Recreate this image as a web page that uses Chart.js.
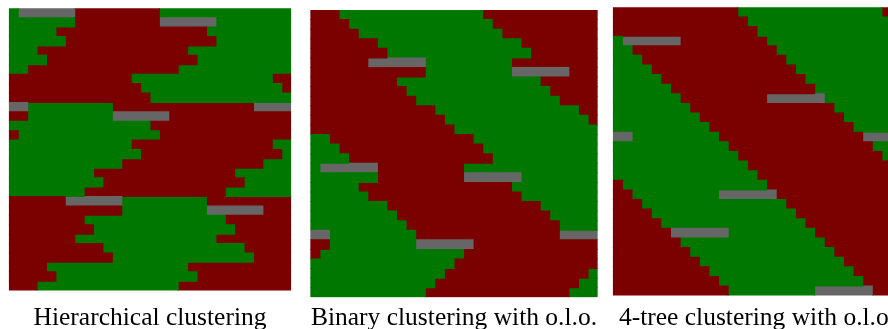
<!DOCTYPE html>
<html>
<head>
<meta charset="utf-8">
<script src="https://cdn.jsdelivr.net/npm/chart.js@4.4.0/dist/chart.umd.min.js"></script>
<style>
  html, body { margin: 0; padding: 0; background: #fff; }
  body { width: 888px; height: 329px; position: relative; overflow: hidden; }
  canvas { position: absolute; top: 0; }
</style>
</head>
<body>
<canvas id="hier"></canvas>
<canvas id="binary"></canvas>
<canvas id="tree4"></canvas>
<script>
const RED = "#7b0000";
const GREEN = "#007800";
const GRAY = "#666666";
const NCOLS = 30;

// each row: runs of cells left to right (G = green, R = red, Y = gray)
const hierRows = [
  "G1 Y6 R9 G14", "G7 R9 Y6 G8", "G5 R16 G9", "G6 R16 G8", "G3 R16 G11",
  "G4 R16 G10", "G2 R16 G12", "R13 G15 R2", "R14 G15 R1", "R15 G15",
  "Y2 G9 R15 Y4", "R2 G9 Y6 R13", "G15 R15", "R1 G15 R14", "G13 R15 G2",
  "G14 R15 G1", "G12 R15 G3", "G9 R15 G6", "G10 R15 G5", "G8 R15 G7",
  "R6 Y6 G9 R9", "R12 G9 Y6 R3", "R8 G15 R7", "R9 G15 R6", "R7 G15 R8",
  "R10 G15 R5", "R11 G15 R4", "R4 G15 R11", "R5 G15 R10", "R3 G15 R12"
];

const binaryRows = [
  "R3 G15 R12", "R4 G15 R11", "R5 G15 R10", "R7 G15 R8", "R8 G15 R7",
  "R6 Y6 G9 R9", "R12 G9 Y6 R3", "R9 G15 R6", "R10 G15 R5", "R11 G15 R4",
  "R13 G15 R2", "R14 G15 R1", "R15 G15", "G2 R15 G13", "G3 R15 G12",
  "G4 R15 G11", "G1 Y6 R9 G14", "G7 R9 Y6 G8", "G5 R16 G9", "G6 R16 G8",
  "G8 R16 G6", "G9 R16 G5", "G10 R16 G4", "Y2 G9 R15 Y4", "R2 G9 Y6 R13",
  "R1 G15 R14", "G15 R15", "G14 R15 G1", "G13 R15 G2", "G12 R15 G3"
];

const tree4Rows = [
  "R13 G15 R2", "R14 G15 R1", "R15 G15", "G1 Y6 R9 G14", "G2 R15 G13",
  "G3 R15 G12", "G4 R15 G11", "G5 R15 G10", "G6 R15 G9", "G7 R9 Y6 G8",
  "G8 R15 G7", "G9 R15 G6", "G10 R15 G5", "Y2 G9 R15 Y4", "G12 R15 G3",
  "G13 R15 G2", "G14 R15 G1", "G15 R15", "R1 G15 R14", "R2 G9 Y6 R13",
  "R3 G15 R12", "R4 G15 R11", "R5 G15 R10", "R6 Y6 G9 R9", "R7 G15 R8",
  "R8 G15 R7", "R9 G15 R6", "R10 G15 R5", "R11 G15 R4", "R12 G9 Y6 R3"
];

const captions = [
  "Hierarchical clustering",
  "Binary clustering with o.l.o.",
  "4-tree clustering with o.l.o."
];

const colorOf = { G: GREEN, R: RED, Y: GRAY };

// panel boxes on the page: left, top, side
const panels = [
  { id: "hier", rows: hierRows, left: 8.4, top: 8.3, size: 282.3 },
  { id: "binary", rows: binaryRows, left: 310, top: 10, size: 287.3 },
  { id: "tree4", rows: tree4Rows, left: 613, top: 7.3, size: 288.3 }
];

const CANVAS_W = 340;
const CANVAS_H = 345;
const FONT_SIZE = 25.5;
const LINE_H = FONT_SIZE * 1.2;
const CAPTION_MID = 318.3;

function parseRuns(row) {
  return row.split(" ").map(s => [s[0], parseInt(s.slice(1))]);
}

function buildDatasets(rows) {
  const runs = rows.map(parseRuns);
  const maxRuns = Math.max(...runs.map(r => r.length));
  const sets = [];
  for (let k = 0; k < maxRuns; k++) {
    sets.push({
      data: runs.map(r => (r[k] ? r[k][1] : 0)),
      backgroundColor: runs.map(r => (r[k] ? colorOf[r[k][0]] : "transparent"))
    });
  }
  return sets;
}

panels.forEach((p, i) => {
  const canvas = document.getElementById(p.id);
  canvas.width = CANVAS_W;
  canvas.height = CANVAS_H;
  const cx = p.left + p.size / 2;
  canvas.style.left = (cx - CANVAS_W / 2) + "px";
  const side = CANVAS_W / 2 - p.size / 2;
  const bottom = p.top + p.size;
  const padTop = CAPTION_MID - LINE_H / 2 - bottom;
  const padBottom = CANVAS_H - bottom - LINE_H - padTop;

  new Chart(canvas.getContext("2d"), {
    type: "bar",
    data: {
      labels: p.rows.map((_, r) => r + 1),
      datasets: buildDatasets(p.rows)
    },
    options: {
      indexAxis: "y",
      responsive: false,
      animation: false,
      events: [],
      layout: { padding: { left: side, right: side, top: p.top, bottom: 0 } },
      datasets: {
        bar: { barPercentage: 1, categoryPercentage: 1, borderWidth: 0, inflateAmount: 0.5 }
      },
      scales: {
        x: { stacked: true, min: 0, max: NCOLS, display: false },
        y: { stacked: true, display: false }
      },
      plugins: {
        legend: { display: false },
        tooltip: { enabled: false },
        title: {
          display: true,
          position: "bottom",
          text: captions[i],
          color: "#000",
          font: { family: "Liberation Serif", size: FONT_SIZE, weight: "normal", lineHeight: 1.2 },
          padding: { top: padTop, bottom: padBottom }
        }
      }
    }
  });
});
</script>
</body>
</html>
